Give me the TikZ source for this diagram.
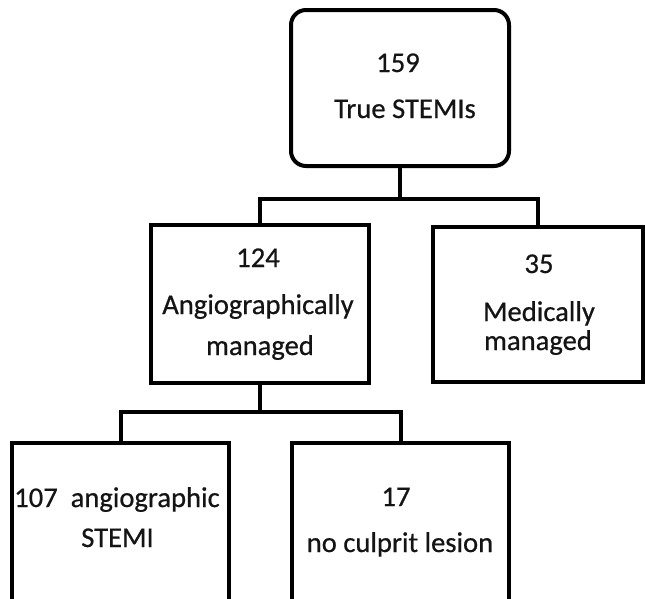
\documentclass[tikz,border=0pt]{standalone}
\usepackage{fontspec}
\setmainfont{Carlito}[FakeBold=0.6]
\begin{document}
\begin{tikzpicture}[x=1pt,y=-1pt,
  box/.style={draw=black,line width=4pt,inner sep=0pt,fill=white},
  txt/.style={anchor=base,inner sep=0pt,font=\fontsize{28.6}{30}\selectfont,text=black!92},
  conn/.style={draw=black,line width=4pt,line join=miter}]
\useasboundingbox[fill=white] (0,0) rectangle (645,598);
\begin{scope}
\clip (0,0) rectangle (645,598);
% boxes
\node[box,rounded corners=15pt,minimum width=218pt,minimum height=156pt] (top) at (400,88) {};
\node[box,minimum width=218pt,minimum height=158pt] (ml) at (260,304) {};
\node[box,minimum width=210pt,minimum height=155pt] (mr) at (538,304.5) {};
\node[box,minimum width=217pt,minimum height=158pt] (bl) at (120.5,522) {};
\node[box,minimum width=217pt,minimum height=158pt] (br) at (400.5,522) {};
% connectors
\coordinate (j1) at (400,199);
\coordinate (j2) at (260,412);
\draw[conn] (top.south) -- (j1);
\draw[conn] (j1) -| (ml.north);
\draw[conn] (j1) -| (mr.north);
\draw[conn] (ml.south) -- (j2);
\draw[conn] (j2) -| (bl.north);
\draw[conn] (j2) -| (br.north);
\end{scope}
% texts
\node[txt] (t1a) at (398,72) {159};
\node[txt] (t1b) at (405,118) {True STEMIs};
\node[txt] (t2a) at (258,267) {124};
\node[txt] (t2b) at (258,314) {Angiographically};
\node[txt] (t2c) at (260,355) {managed};
\node[txt] (t3a) at (539,273) {35};
\node[txt] (t3b) at (539,321) {Medically};
\node[txt] (t3c) at (538,350) {managed};
\node[txt] (t4a) at (117,507) {107\ \ angiographic};
\node[txt] (t4b) at (117.5,547) {STEMI};
\node[txt] (t5a) at (396,506) {17};
\node[txt] (t5b) at (400,552) {no culprit lesion};
\end{tikzpicture}
\end{document}
